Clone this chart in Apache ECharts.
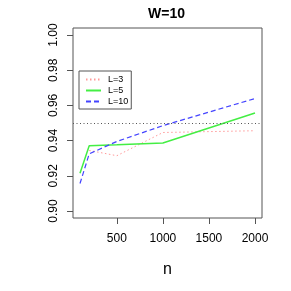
<!DOCTYPE html>
<html><head><meta charset="utf-8">
<script src="https://cdn.jsdelivr.net/npm/echarts@6/dist/echarts.min.js"></script>
<style>html,body{margin:0;padding:0;background:#fff}#c{width:291px;height:291px}</style>
</head><body><div id="c"></div>
<script>
var nValues = [100, 200, 500, 1000, 2000];
var L3 = [null, 0.9344, 0.9314, 0.9446, 0.9456];
var L5 = [0.9215, 0.9371, 0.9376, 0.9386, 0.9557];
var L10 = [0.9156, 0.9325, 0.9395, 0.9485, 0.9639];
var xTicks = [500, 1000, 1500, 2000];
var yTicks = [0.90, 0.92, 0.94, 0.96, 0.98, 1.00];
var refLevel = 0.95;

function pairs(v){ var o=[]; for(var i=0;i<nValues.length;i++){ if(v[i]!==null) o.push([nValues[i], v[i]]); } return o; }
var font = 'Liberation Sans, Arial, Helvetica, sans-serif';
var chart = echarts.init(document.getElementById('c'), null, {renderer:'canvas'});
chart.setOption({
  animation:false,
  title:{text:'W=10', top:7, left:148, padding:0, textStyle:{fontFamily:font, fontWeight:'bold', fontSize:14, color:'#000'}},
  grid:{left:73, right:29, top:28, bottom:73, show:true, borderColor:'#555', borderWidth:1, backgroundColor:'transparent'},
  legend:{
    orient:'vertical', left:79, top:71,
    borderColor:'#555', borderWidth:1, borderRadius:0, padding:[4,3,3,6],
    itemWidth:15, itemHeight:8, itemGap:2,
    itemStyle:{opacity:0},
    textStyle:{fontFamily:font, fontSize:9, color:'#000', padding:[0,0,0,2]},
    data:['L=3','L=5','L=10']
  },
  xAxis:{type:'value', min:24, max:2076,
    name:'n', nameLocation:'middle', nameGap:44, nameTextStyle:{fontFamily:font, fontSize:16, color:'#000'},
    axisLine:{show:false}, splitLine:{show:false},
    axisTick:{show:true, length:6, customValues:xTicks, lineStyle:{color:'#555'}},
    axisLabel:{customValues:xTicks, fontFamily:font, fontSize:12, color:'#000', margin:15,
      formatter:function(v){return String(v);}}
  },
  yAxis:{type:'value', min:0.896, max:1.004,
    axisLine:{show:false}, splitLine:{show:false},
    axisTick:{show:true, length:6, customValues:yTicks, lineStyle:{color:'#555'}},
    axisLabel:{customValues:yTicks, rotate:90, fontFamily:font, fontSize:12, color:'#000', margin:13,
      formatter:function(v){return v.toFixed(2);}}
  },
  series:[
    {name:'L=3', type:'line', symbol:'none', data:pairs(L3), lineStyle:{color:'#ff9999', width:1, type:[1.5,2.5]}, itemStyle:{color:'#ff9999'},
      markLine:{silent:true, symbol:'none', label:{show:false}, lineStyle:{color:'#555', width:1, type:[1,2.5]}, data:[{yAxis:refLevel}]}},
    {name:'L=5', type:'line', symbol:'none', data:pairs(L5), lineStyle:{color:'#44ee44', width:1.5, type:'solid'}, itemStyle:{color:'#44ee44'}},
    {name:'L=10', type:'line', symbol:'none', data:pairs(L10), lineStyle:{color:'#4444ff', width:1.2, type:[5,3]}, itemStyle:{color:'#4444ff'}}
  ]
});
</script></body></html>
